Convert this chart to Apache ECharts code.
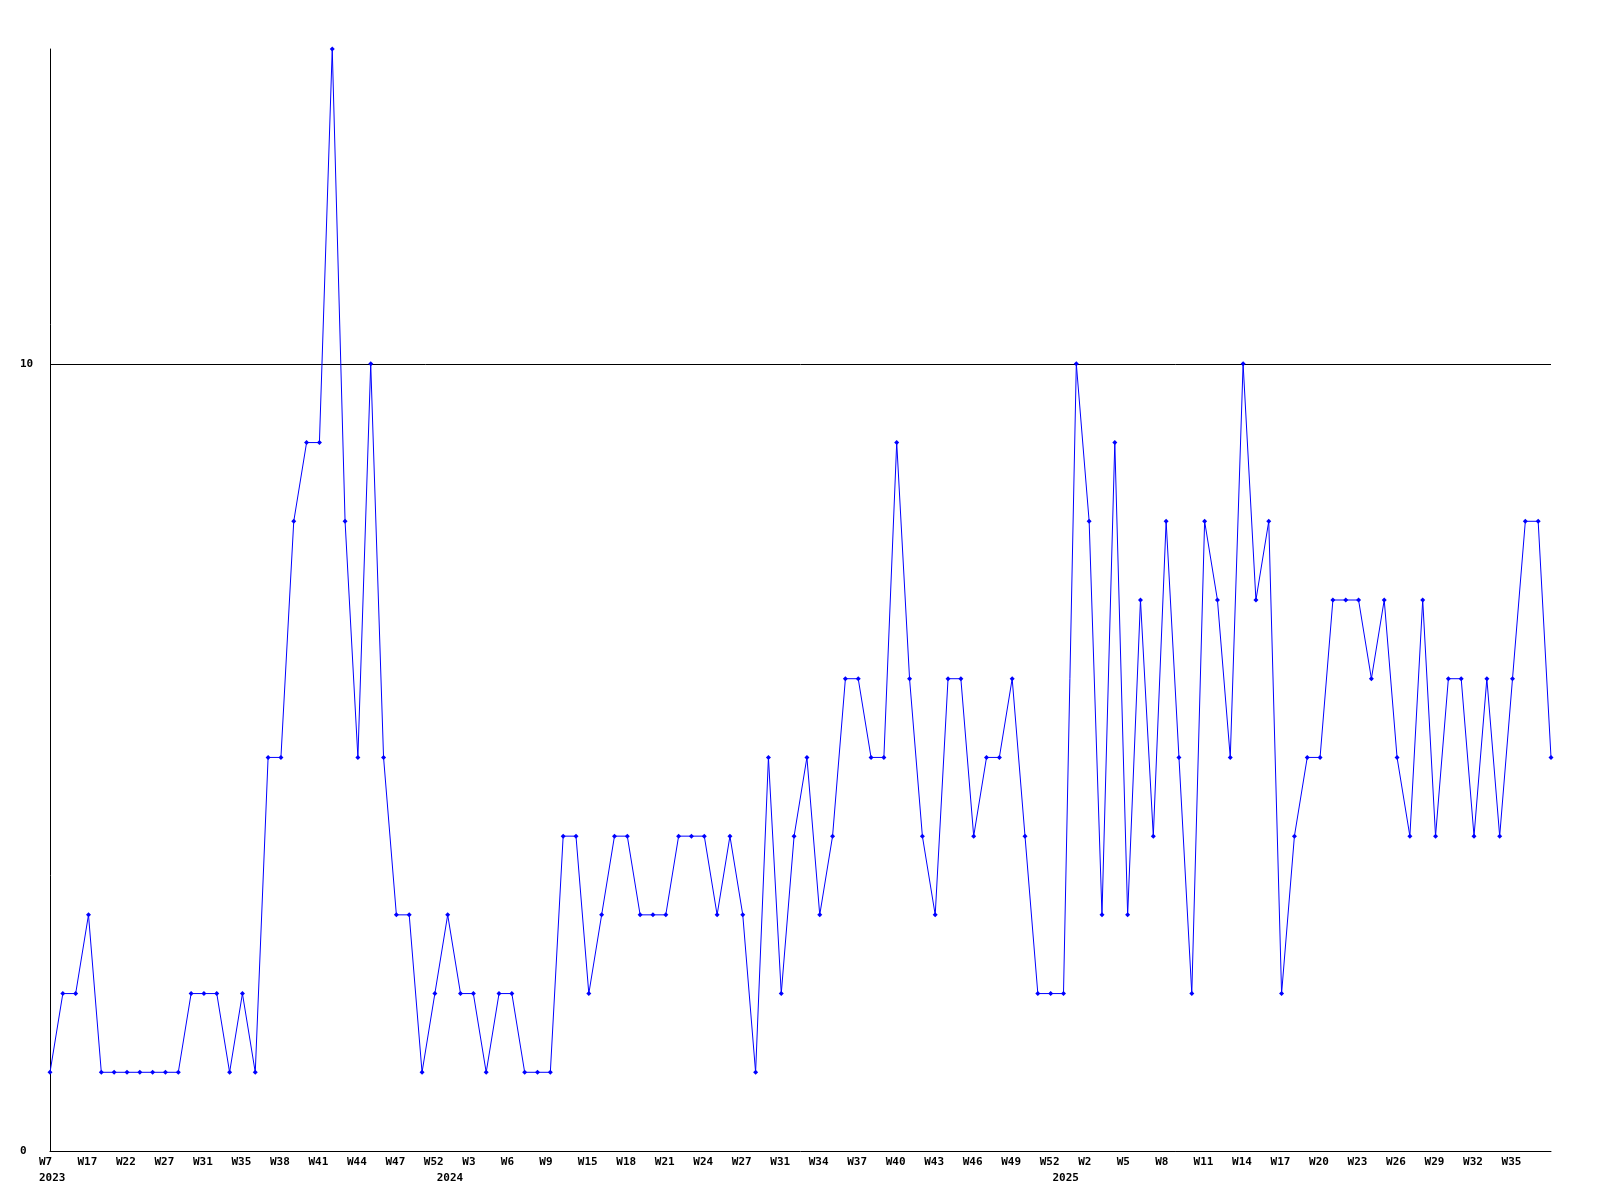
<!DOCTYPE html>
<html>
<head>
<meta charset="utf-8">
<script src="https://cdn.jsdelivr.net/npm/echarts@6/dist/echarts.min.js"></script>
<style>
html,body{margin:0;padding:0;background:#fff;}
#chart{width:1600px;height:1200px;}
</style>
</head>
<body>
<div id="chart"></div>
<script>
// Week labels per year (categories)
const years = ['2023', '2024', '2025'];
const weeks2023 = ['W7','W10','W14','W17','W19','W20','W22','W24','W25','W27','W28','W29','W31','W32','W34','W35','W36','W37','W38','W39','W40','W41','W42','W43','W44','W45','W46','W47','W48','W50','W52'];
const weeks2024 = ['W1','W2','W3','W4','W5','W6','W7','W8','W9','W11','W13','W15','W16','W17','W18','W19','W20','W21','W22','W23','W24','W25','W26','W27','W28','W30','W31','W32','W33','W34','W35','W36','W37','W38','W39','W40','W41','W42','W43','W44','W45','W46','W47','W48','W49','W50','W51','W52'];
const weeks2025 = ['W0','W1','W2','W3','W4','W5','W6','W7','W8','W9','W10','W11','W12','W13','W14','W15','W16','W17','W18','W19','W20','W21','W22','W23','W24','W25','W26','W27','W28','W29','W30','W31','W32','W33','W34','W35','W36','W37','W38'];

// Series values
const values = [
  1,2,2,3,1,1,1,1,1,1,1,2,2,2,1,2,1,
  5,5,8,9,9,14,8,5,10,5,
  3,3,1,2,3,2,2,1,2,2,1,1,1,
  4,4,2,3,4,4,3,3,3,4,4,4,3,4,3,1,5,2,4,5,3,4,6,6,5,5,9,6,4,3,6,6,4,5,5,6,4,2,2,
  2,10,8,3,9,3,7,4,8,5,2,8,7,5,10,7,8,2,4,5,5,7,7,7,6,7,5,4,7,4,6,6,4,6,4,6,8,8,5
];

// Y axis ticks
const yMin = 0, yMax = 14, yInterval = 10;

const weekLists = [weeks2023, weeks2024, weeks2025];
const categories = [];
const yearStart = {};
weekLists.forEach((list, yi) => {
  yearStart[categories.length] = years[yi];
  list.forEach(w => categories.push(years[yi] + ' ' + w));
});
const lastIndex = categories.length - 1;

const font = { fontFamily: 'DejaVu Sans Mono', fontWeight: 'bold', fontSize: 11, color: '#000' };

const chart = echarts.init(document.getElementById('chart'));
chart.setOption({
  animation: false,
  backgroundColor: '#fff',
  grid: { left: 50, right: 49, top: 49, bottom: 49, containLabel: false },
  xAxis: [{
    type: 'category',
    data: categories,
    boundaryGap: false,
    axisLine: { show: true, lineStyle: { color: '#000', width: 1 } },
    axisTick: { show: false },
    splitLine: { show: false },
    axisLabel: Object.assign({
      interval: (i) => i % 3 === 0 && i < lastIndex,
      margin: 6,
      align: 'center',
      formatter: v => '{w|' + v.split(' ')[1] + '}',
      rich: { w: Object.assign({ width: 22, align: 'left' }, font) }
    }, font)
  }, {
    type: 'category',
    data: categories,
    boundaryGap: false,
    position: 'bottom',
    axisLine: { show: false },
    axisTick: { show: false },
    splitLine: { show: false },
    axisLabel: Object.assign({
      interval: (i) => yearStart[i] !== undefined,
      margin: 22,
      align: 'center',
      formatter: (v) => '{w|' + v.split(' ')[0] + '}',
      rich: { w: Object.assign({ width: 22, align: 'left' }, font) }
    }, font)
  }],
  yAxis: {
    type: 'value',
    min: yMin,
    max: yMax,
    interval: yInterval,
    axisLine: { show: true, lineStyle: { color: '#000', width: 1 } },
    axisTick: { show: false },
    splitLine: { show: true, showMinLine: false, showMaxLine: false, lineStyle: { color: '#000', width: 1 } },
    axisLabel: Object.assign({ align: 'left', margin: 30, showMaxLabel: false }, font)
  },
  series: [{
    type: 'line',
    data: values,
    xAxisIndex: 0,
    color: '#0000ff',
    lineStyle: { color: '#0000ff', width: 1 },
    itemStyle: { color: '#0000ff' },
    symbol: 'diamond',
    symbolSize: 5,
    showSymbol: true,
    showAllSymbol: true,
    emphasis: { disabled: true }
  }]
});
</script>
</body>
</html>
